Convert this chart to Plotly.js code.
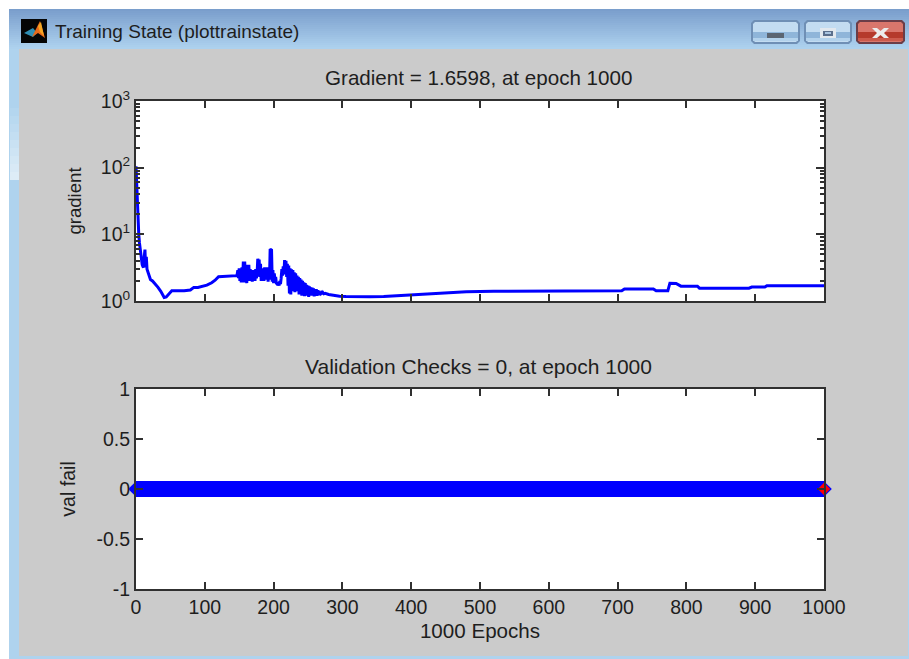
<!DOCTYPE html>
<html>
<head>
<meta charset="utf-8">
<script src="https://cdn.plot.ly/plotly-3.0.1.min.js"></script>
<style>html,body{margin:0;padding:0;background:#fff}#plot{width:909px;height:659px}</style>
</head>
<body>
<div id="plot"></div>
<script>
// Values
var gradEpochs = [
 0,1,2,3,4,5,6,7,8,9,10,11,12,13,14,15,16,18,21,24,28,32,36,41,44,48,52,60,70,79,84,90,103,110,115,120,130,141,
 146,147,148,149,150,151,152,153,154,155,
 156,157,158,159,160,161,162,163,164,165,
 166,167,168,169,170,171,172,173,174,175,
 176,177,178,179,180,181,182,183,184,185,
 186,187,188,189,190,191,192,193,194,195,
 196,197,198,199,200,201,202,203,204,205,
 206,207,208,209,210,211,212,213,214,215,
 216,217,218,219,220,221,222,223,224,225,
 226,227,228,229,230,231,232,233,234,235,
 236,237,238,239,240,241,242,243,244,245,
 246,247,248,249,250,251,252,253,254,255,
 256,257,258,259,260,261,262,263,264,265,
 266,267,268,269,270,271,272,273,274,275,
 280,285,290,296,305,320,340,360,380,400,
 430,450,480,520,560,600,640,674,680,706,
 710,752,756,773,776,785,792,816,819,891,
 895,914,917,1000];
var gradValues = [
 105,50,26,15,10,7.5,5.9,4.6,4,3.5,3.3,3.2,4.6,5.9,3.2,4.6,3,2.6,2.1,2,1.8,1.6,1.4,1.13,1.15,1.28,1.42,1.42,1.42,1.46,1.6,1.6,1.73,1.88,2.05,2.32,2.34,2.38,
 2.4,2.5,2.9,2.2,3.1,2.0,2.9,1.9,3.2,2.1,
 3.9,1.9,3.9,2.1,3.1,1.85,3.5,2.2,3.5,2.0,
 3.0,2.1,2.6,1.95,2.9,2.1,2.7,2.0,3.0,2.2,
 2.6,4.3,3.9,4.2,2.3,3.6,2.0,3.1,2.2,2.9,
 2.0,3.2,2.2,2.9,2.1,3.2,1.95,2.8,2.1,6.0,
 5.9,5.8,1.95,2.9,1.85,2.6,2.0,2.3,1.85,1.8,
 1.75,1.9,1.7,2.0,1.8,2.2,3.0,2.4,3.3,2.6,
 4.1,2.5,4.0,2.3,3.6,1.7,3.4,1.3,3.1,1.25,
 3.0,1.4,2.9,1.5,2.7,1.35,2.6,1.6,2.4,1.4,
 2.3,1.25,2.2,1.5,2.1,1.2,2.0,1.45,1.9,1.18,
 1.85,1.4,1.75,1.2,1.7,1.15,1.65,1.35,1.6,1.2,
 1.58,1.3,1.55,1.17,1.5,1.25,1.5,1.2,1.45,1.3,
 1.42,1.22,1.38,1.3,1.34,1.27,1.32,1.28,1.3,1.3,
 1.25,1.22,1.2,1.18,1.17,1.16,1.16,1.17,1.2,1.24,
 1.27,1.3,1.38,1.4,1.4,1.4,1.41,1.42,1.42,1.42,
 1.51,1.51,1.42,1.42,1.85,1.83,1.67,1.67,1.56,1.56,
 1.62,1.62,1.7,1.7];
var valEpochs = [0,1000];
var valFails = [0,0];
var bestEpoch = [1000];
var bestFail = [0];
var xTicks = [0,100,200,300,400,500,600,700,800,900,1000];
var gradTicks = [1,10,100,1000];
var gradTickText = ['10<sup>0</sup>','10<sup>1</sup>','10<sup>2</sup>','10<sup>3</sup>'];
var valTicks = [-1,-0.5,0,0.5,1];
var valTickText = ['-1','-0.5','0','0.5','1'];
var titleTop = 'Gradient = 1.6598, at epoch 1000';
var titleBottom = 'Validation Checks = 0, at epoch 1000';
var windowTitle = 'Training State (plottrainstate)';

var W = 909, H = 659;
var FONT = '"Liberation Sans", Arial, sans-serif';
var INK = '#1e1e1e';
function px(x){return x/W;}
function py(y){return 1-y/H;}
function rect(x0,y0,x1,y1,fill,line,lw){
  return {type:'rect',xref:'paper',yref:'paper',x0:px(x0),x1:px(x1),y0:py(y0),y1:py(y1),
    fillcolor:fill,line:{width:lw||0,color:line||fill},layer:'below'};
}
function poly(pts,fill){
  var d = pts.map(function(p,i){return (i?'L':'M')+px(p[0])+','+py(p[1]);}).join(' ')+' Z';
  return {type:'path',xref:'paper',yref:'paper',path:d,fillcolor:fill,line:{width:0},layer:'below'};
}
function rounded(x0,y0,x1,y1,r,fill){
  return poly([[x0+r,y0],[x1-r,y0],[x1,y0+r],[x1,y1-r],[x1-r,y1],[x0+r,y1],[x0,y1-r],[x0,y0+r]],fill);
}
function mix(a,b,t){
  var r=a.map(function(v,i){return Math.round(v+(b[i]-v)*t);});
  return 'rgb('+r.join(',')+')';
}
var shapes = [];
// window frame
shapes.push(rect(9,9,909,659,'#afd3ee'));
// title bar gradient
for (var y=9;y<49;y+=2){
  shapes.push(rect(9,y,909,y+2,mix([122,158,204],[176,212,240],(y-9)/40)));
}
// left edge highlight
for (var y2=100;y2<180;y2+=8){
  shapes.push(rect(10,y2,19,y2+8,mix([175,211,238],[226,239,248],(y2-100)/80)));
}
// client area
shapes.push(rect(19,49,908,656,'#cbcbcb'));
// white plot areas
shapes.push(rect(135,100,825,302,'#ffffff'));
shapes.push(rect(135,388,825,590,'#ffffff'));
// app icon
shapes.push(rect(21,19,47,43,'#050505'));
shapes.push(poly([[24,33],[33,28],[37,33],[33,37]],'#2f8fb5'));
shapes.push(poly([[32,37],[40,21],[45,38],[38,33]],'#e8691a'));
shapes.push(poly([[38,26],[41,22],[44,36],[40,32]],'#f5a623'));
// window buttons
function button(x0,x1,c1,c2,c3,edge){
  return [
    rounded(x0,20,x1,44,3,edge),
    rounded(x0+2,22,x1-2,42,2,c1),
    rect(x0+2,32,x1-2,38,c2),
    rect(x0+2,38,x1-2,41,c3)
  ];
}
shapes = shapes.concat(button(751,800,'#c3dcf1','#8fb5d9','#b3d2ec','#6f8fb5'));
shapes = shapes.concat(button(804,852,'#c3dcf1','#8fb5d9','#b3d2ec','#6f8fb5'));
shapes = shapes.concat(button(856,905,'#d9766c','#b53a2c','#cc5a4c','#6b3d48'));
shapes.push(rect(767,33,784,38,'#5b6572'));
shapes.push(rect(820,28,836,38,'#e2e8ee'));
shapes.push(rect(823,31,833,36,'#5b6f8c'));
shapes.push(rect(825,32,831,34,'#a9c4e0'));
shapes.push(poly([[872,28],[877,28],[880.5,31],[884,28],[889,28],[884,33],[889,38],[884,38],[880.5,35],[877,38],[872,38],[877,33]],'#ececec'));

function annot(text,x,y,size,anchor){
  return {text:text,x:px(x),y:py(y),xref:'paper',yref:'paper',showarrow:false,
    xanchor:anchor||'center',yanchor:'middle',font:{family:FONT,size:size,color:INK}};
}
var annotations = [
  annot(windowTitle,53,32,19,'left'),
  annot(titleTop,478,78,20.6),
  annot(titleBottom,478,366,21)
];

var axisCommon = {
  showgrid:false, zeroline:false, showline:true, linecolor:'#303030', linewidth:2,
  mirror:'ticks', ticks:'inside', tickcolor:'#303030', ticklen:7, tickwidth:2,
  tickfont:{family:FONT,size:19.5,color:INK}
};
function merge(a,b){return Object.assign({},a,b);}

var traces = [
  {x:gradEpochs,y:gradValues,xaxis:'x',yaxis:'y',mode:'lines',
   line:{color:'#0000ff',width:3},hoverinfo:'x+y',cliponaxis:true},
  {x:valEpochs,y:valFails,xaxis:'x2',yaxis:'y2',mode:'lines+markers',
   line:{color:'#0000ff',width:16},
   marker:{symbol:'diamond',size:12,color:'#0000ff'},cliponaxis:false},
  {x:bestEpoch,y:bestFail,xaxis:'x2',yaxis:'y2',mode:'markers',
   marker:{symbol:'diamond',size:9.5,color:'#ff0000',line:{width:0}},cliponaxis:false}
];

var layout = {
  width:W,height:H,autosize:false,showlegend:false,
  margin:{l:0,r:0,t:0,b:0},
  paper_bgcolor:'#ffffff',plot_bgcolor:'#ffffff',
  font:{family:FONT,color:INK},
  shapes:shapes,annotations:annotations,
  xaxis:merge(axisCommon,{domain:[px(136),px(824)],range:[0,1000],anchor:'y',
    tickvals:xTicks,showticklabels:false}),
  yaxis:merge(axisCommon,{domain:[py(301),py(101)],type:'log',range:[0,3],anchor:'x',
    tickvals:gradTicks,ticktext:gradTickText,ticklen:8,
    minor:{ticks:'inside',ticklen:4,tickwidth:2,tickcolor:'#303030',dtick:'D1'},
    title:{text:'gradient',font:{family:FONT,size:18.6,color:INK},standoff:14}}),
  xaxis2:merge(axisCommon,{domain:[px(136),px(824)],range:[0,1000],anchor:'y2',
    tickvals:xTicks,ticktext:xTicks.map(String),
    title:{text:'1000 Epochs',font:{family:FONT,size:20.6,color:INK},standoff:6}}),
  yaxis2:merge(axisCommon,{domain:[py(589),py(389)],range:[-1,1],anchor:'x2',
    tickvals:valTicks,ticktext:valTickText,
    title:{text:'val fail',font:{family:FONT,size:19.6,color:INK},standoff:16}})
};
Plotly.newPlot('plot',traces,layout,{displayModeBar:false,responsive:false});
</script>
</body>
</html>
